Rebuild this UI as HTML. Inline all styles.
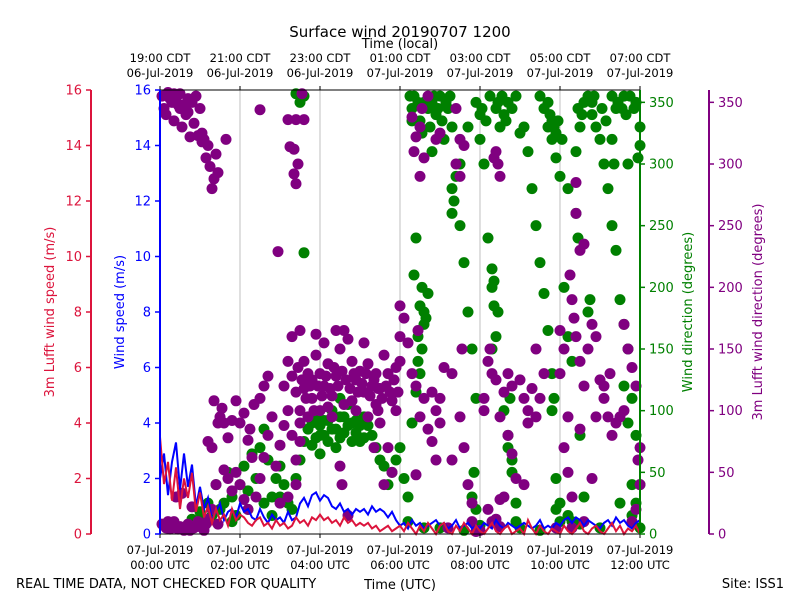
<!DOCTYPE html>
<html><head><meta charset="utf-8"><style>
body{margin:0;background:#fff;}
svg text{font-family:"DejaVu Sans","Liberation Sans",sans-serif;}
</style></head><body>
<svg id="chart" width="800" height="600" viewBox="0 0 800 600" xmlns="http://www.w3.org/2000/svg">
<rect width="800" height="600" fill="#fff"/>
<text x="400" y="37" font-size="15" text-anchor="middle">Surface wind 20190707 1200</text>
<text x="400" y="48" font-size="13" text-anchor="middle">Time (local)</text>
<text x="400" y="589" font-size="13" text-anchor="middle">Time (UTC)</text>
<text x="16" y="588" font-size="13">REAL TIME DATA, NOT CHECKED FOR QUALITY</text>
<text x="784" y="588" font-size="13" text-anchor="end">Site: ISS1</text>
<g id="grid"></g><g id="dots"></g><g id="lines"></g><g id="axes"></g>
</svg>
<script>
const hoursTicks=[0,2,4,6,8,10,12];
const utcLabels1=["07-Jul-2019","07-Jul-2019","07-Jul-2019","07-Jul-2019","07-Jul-2019","07-Jul-2019","07-Jul-2019"];
const utcLabels2=["00:00 UTC","02:00 UTC","04:00 UTC","06:00 UTC","08:00 UTC","10:00 UTC","12:00 UTC"];
const localLabels1=["19:00 CDT","21:00 CDT","23:00 CDT","01:00 CDT","03:00 CDT","05:00 CDT","07:00 CDT"];
const localLabels2=["06-Jul-2019","06-Jul-2019","06-Jul-2019","07-Jul-2019","07-Jul-2019","07-Jul-2019","07-Jul-2019"];
const speedTicks=[0,2,4,6,8,10,12,14,16];
const dirTicks=[0,50,100,150,200,250,300,350];
const blueSpeed=[2.0,2.9,1.4,2.6,3.3,1.6,2.9,1.7,2.5,1.0,1.7,
0.9,1.3,0.5,0.8,1.1,0.5,0.8,0.9,0.6,1.1,
0.8,0.9,0.6,0.5,0.9,0.6,0.4,0.7,0.5,0.6,
0.4,0.8,0.5,0.6,1.1,1.3,1.0,1.4,1.5,1.2,
1.4,1.3,1.0,0.9,1.1,0.8,0.9,0.7,0.9,0.8,
0.9,0.7,1.0,0.8,0.9,0.8,0.6,0.8,0.5,0.3,
0.4,0.2,0.5,0.3,0.4,0.2,0.3,0.4,0.5,0.3,
0.4,0.2,0.3,0.5,0.2,0.3,0.4,0.2,0.3,0.2,
0.4,0.3,0.2,0.5,0.3,0.2,0.4,0.3,0.2,0.3,
0.4,0.3,0.2,0.3,0.5,0.2,0.3,0.2,0.4,0.3,
0.5,0.6,0.4,0.6,0.5,0.3,0.5,0.4,0.3,0.2,
0.4,0.5,0.3,0.6,0.4,0.5,0.3,0.2,0.4,0.5];
const redSpeed=[3.5,1.8,2.6,1.2,2.4,0.9,2.0,1.3,2.2,0.8,1.5,
0.6,1.0,0.4,0.9,0.5,0.7,0.3,0.9,0.5,0.7,
0.6,0.4,0.3,0.5,0.6,0.3,0.4,0.2,0.5,0.3,
0.4,0.2,0.3,0.6,0.4,0.5,0.3,0.6,0.5,0.7,
0.5,0.6,0.4,0.5,0.3,0.6,0.4,0.5,0.3,0.4,
0.3,0.4,0.2,0.3,0.1,0.2,0.3,0.1,0.2,0.3,
0.1,0.4,0.2,0.0,0.3,0.1,0.4,0.2,0.0,0.3,
0.4,0.1,0.0,0.3,0.1,0.4,0.2,0.0,0.3,0.1,
0.0,0.2,0.4,0.1,0.0,0.2,0.3,0.0,0.1,0.2,
0.0,0.5,0.2,0.0,0.3,0.1,0.0,0.2,0.1,0.0,
0.3,0.1,0.0,0.2,0.4,0.1,0.0,0.2,0.3,0.1,
0.0,0.2,0.4,0.1,0.3,0.0,0.2,0.1,0.3,0.0];
const greenDir=[[0.6,5],[0.8,12],[1.0,18],[1.1,10],[1.2,25],[1.3,15],[1.4,40],[1.5,20],[1.6,25],[1.7,50],[1.8,30],[1.9,15],[2.0,40],[2.1,55],[2.2,35],[2.3,65],[2.4,45],[2.5,70],[2.6,85],[2.7,60],[2.8,30],[2.9,45],[3.0,55],[3.1,40],[3.2,25],[3.3,20],[3.4,45],[3.5,60],[3.6,75],[3.7,85],[3.8,90],[3.9,95],[4.0,88],[4.1,80],[4.2,92],[4.3,100],[4.4,85],[4.5,78],[4.6,95],[4.7,105],[4.8,90],[4.9,82],[5.0,75],[5.1,95],[5.2,88],[5.3,80],[5.4,70],[5.5,60],[5.6,55],[5.7,40],[5.8,50],[5.9,60],[6.0,70],[6.1,45],[6.2,30],[6.3,90],[6.4,115],[6.5,130],[6.55,150],[6.6,170],[6.7,195],[6.5,185],[6.45,140],[6.35,210],[6.4,240],[6.3,345],[6.35,355],[6.5,335],[6.6,350],[6.8,350],[6.9,340],[7.0,355],[7.2,345],[7.3,330],[7.1,320],[6.8,310],[7.5,300],[7.7,330],[7.9,350],[8.0,340],[8.1,300],[8.0,320],[7.3,280],[7.4,290],[7.5,250],[7.6,220],[7.7,180],[7.8,150],[7.9,110],[7.85,50],[7.8,30],[7.9,20],[8.2,240],[8.3,200],[8.35,185],[8.4,160],[8.3,150],[8.6,100],[8.7,80],[8.8,60],[8.75,110],[8.9,25],[8.9,10],[8.4,345],[8.5,330],[8.6,340],[8.7,350],[8.9,355],[9.0,325],[9.1,330],[9.2,310],[9.3,280],[9.4,250],[9.5,220],[9.6,195],[9.7,165],[9.8,100],[9.9,45],[9.9,20],[10.0,25],[9.5,355],[9.6,345],[9.7,330],[9.8,320],[9.9,305],[10.0,290],[10.2,280],[10.4,310],[10.5,330],[10.6,350],[10.7,355],[10.8,340],[10.9,330],[11.0,320],[11.1,300],[11.2,280],[11.3,250],[11.4,230],[11.5,190],[11.6,170],[11.7,150],[11.8,110],[11.9,80],[12.0,40],[11.8,15],[12.0,5],[11.4,345],[11.6,355],[11.9,350],[12.0,330],[11.7,300],[10.1,200],[10.2,160],[10.3,140],[10.5,80],[10.6,30],[10.0,10],[11.5,25],[6.2,10],[6.6,5],[7.0,5],[7.6,3],[8.0,7],[9.0,5],[9.5,3],[10.5,8],[11.0,5],[3.4,357],[3.5,350],[3.6,355],[3.6,228],
[4.0,80],[4.1,92],[4.2,75],[4.3,85],[4.4,70],[4.5,95],[4.6,82],[4.8,75],[4.9,92],[5.0,88],[5.1,78],[4.7,88],[3.9,78],[3.8,72],[4.0,65],[4.5,110],[2.2,20],[2.6,25],[3.0,30],[2.8,15],[1.8,10],
[6.25,355],[6.3,335],[6.45,350],[6.55,325],[6.7,345],[6.75,330],[6.85,355],[6.95,345],[7.05,335],[7.15,350],[7.25,355],[6.55,200],[6.6,180],[6.65,175],[6.45,160],[7.3,260],[7.35,270],[8.05,345],[8.15,335],[8.25,355],[8.45,350],[8.55,355],[8.65,335],[8.8,345],[8.3,215],[8.35,205],[8.45,180],[8.7,70],[8.8,50],[9.7,350],[9.75,340],[9.8,335],[9.85,330],[9.9,325],[9.95,335],[10.05,320],[10.45,345],[10.55,340],[10.8,350],[10.85,355],[11.05,345],[11.15,335],[11.3,355],[11.45,350],[11.55,345],[11.65,340],[11.75,355],[11.85,345],[11.95,305],[12.0,315],[11.3,320],[11.35,300],[10.4,260],[10.45,240],[10.7,180],[10.75,190],[11.6,120],[11.7,90],[11.8,40],[11.9,25],[10.2,15],[10.3,10],[9.8,130],[9.85,110]];
const purpleDir=[[0.05,355],[0.1,345],[0.2,358],[0.3,350],[0.4,352],[0.5,357],[0.6,348],[0.7,353],[0.8,350],[0.9,355],[1.0,345],[0.15,340],[0.35,335],[0.55,330],[0.75,322],[0.65,340],[0.85,333],[0.95,323],[1.05,325],[1.1,320],[1.2,315],[1.15,305],[1.25,298],[1.3,280],[1.4,308],[1.05,318],[1.45,293],[1.35,288],
[0.25,353],[0.45,348],[0.15,356],[0.35,357],[0.5,345],[0.7,342],
[0.05,8],[0.15,5],[0.25,4],[0.35,10],[0.5,6],[0.6,3],[0.7,8],[0.85,5],[1.0,6],[1.1,3],[0.4,30],[0.55,33],[0.8,22],[1.2,12],[1.3,20],[1.45,8],
[0.2,10],[0.45,4],[0.75,3],[0.95,10],[1.15,8],
[1.2,75],[1.3,70],[1.4,40],[1.45,90],[1.5,95],[1.6,90],[1.7,78],[1.8,92],[1.9,108],[2.0,90],[2.1,98],[2.2,76],[2.3,62],[1.6,52],[1.7,45],[1.8,35],[1.9,50],[2.0,40],[2.1,28],[2.2,20],[2.4,30],[2.5,45],[2.6,62],[2.7,80],[2.8,95],[2.9,55],[3.0,72],[3.1,88],[3.2,100],[3.3,80],[3.4,60],[2.5,110],[2.6,120],[2.7,128],[2.35,105],[1.55,102],[1.35,108],[2.25,85],[3.0,25],[3.2,30],[3.4,40],[3.5,75],
[1.65,320],[2.5,344],[2.95,229],[3.2,336],[3.4,336],[3.6,336],[3.25,314],[3.35,312],[3.4,284],[3.35,292],[3.55,357],[3.45,300],
[3.1,120],[3.2,140],[3.3,128],[3.4,115],[3.5,100],[3.6,140],[3.7,130],[3.8,125],[3.9,145],[4.0,130],[4.1,120],[4.2,138],[4.3,112],[4.4,128],[4.5,150],[4.6,165],[4.7,158],[4.8,140],[4.9,125],[5.0,132],[5.1,115],[5.2,138],[5.3,120],[5.4,105],[5.5,118],[5.6,145],[5.7,130],[5.8,108],[5.9,100],[6.0,140],[6.1,175],[6.0,160],[3.5,90],[3.7,95],[4.0,100],[4.3,95],[4.6,105],[4.9,100],[5.2,95],[5.5,90],[5.7,70],[5.8,50],[5.6,40],[3.9,162],[4.1,155],[3.3,160],[3.5,165],[4.4,165],[5.1,155],[5.4,130],[4.8,108],[3.6,118],[3.8,110],[4.2,103],[6.0,185],[5.45,100],[5.9,135],[4.55,40],[4.7,15],[4.5,55],[5.35,70],
[3.95,120],[4.05,112],[4.15,128],[4.25,118],[4.35,135],[4.45,120],[4.55,132],[4.65,125],[4.75,118],[4.85,130],[4.95,115],[5.05,122],[5.15,130],[5.25,112],[5.35,125],[5.45,118],[5.55,110],[5.65,120],[5.75,115],[5.85,125],[5.95,115],[3.45,135],[3.55,125],[3.65,110],[3.75,120],[3.85,100],
[6.2,155],[6.3,130],[6.4,120],[6.45,165],[6.5,95],[6.6,110],[6.7,85],[6.8,75],[6.9,100],[7.0,110],[7.1,135],[7.0,90],[6.8,115],[6.9,60],[6.4,48],[6.3,338],[6.4,322],[6.5,330],[6.6,305],[6.5,290],[6.7,355],[6.9,320],[7.0,325],[6.35,310],[6.55,345],[7.3,130],[7.5,95],[7.6,70],[7.7,40],[7.8,25],[7.55,150],[7.3,60],[7.8,10],[7.2,5],[7.9,2],[8.0,3],[8.1,110],[8.2,140],[8.25,150],[8.3,130],[8.4,125],[8.1,100],[8.5,95],[8.6,115],[8.7,80],[8.8,65],[8.9,45],[8.6,30],[8.3,10],[8.5,6],[8.2,20],[9.0,125],[9.1,110],[9.2,100],[9.3,118],[9.4,95],[9.5,110],[9.6,130],[9.4,150],[9.1,40],[9.2,90],[8.8,120],[8.7,130],[8.5,28],[8.4,12],[7.4,345],[7.5,320],[7.6,315],[7.4,300],[7.5,290],[8.35,305],[8.4,310],[8.45,300],[8.5,290],
[10.0,165],[10.1,150],[10.0,130],[10.2,95],[10.1,70],[10.2,50],[10.3,30],[10.25,210],[10.3,190],[10.35,175],[10.4,160],[10.5,140],[10.6,120],[10.7,150],[10.8,170],[10.9,160],[11.0,125],[11.1,110],[11.2,95],[11.3,80],[11.4,90],[11.5,95],[11.6,170],[11.7,150],[11.8,135],[11.9,120],[11.95,60],[12.0,40],[11.9,20],[11.8,10],[12.0,70],[11.6,100],[10.8,45],[10.5,85],[10.9,95],[11.25,130],[11.1,120],[10.6,10],[10.3,5],[9.9,5],[10.4,260],[10.5,230],[10.6,235],[10.4,285]];

const X0=160,X1=640,Y0=534,Y1=90;
const xS=h=>X0+(h/12)*(X1-X0);
const ySpd=v=>Y0-(v/16)*(Y0-Y1);
const yDir=d=>Y0-(d/360)*(Y0-Y1);
const NS="http://www.w3.org/2000/svg";
function mk(tag,parent,attrs){const e=document.createElementNS(NS,tag);for(const k in attrs)e.setAttribute(k,attrs[k]);parent.appendChild(e);return e;}
const grid=document.getElementById('grid'),dots=document.getElementById('dots'),lines=document.getElementById('lines'),axes=document.getElementById('axes');
hoursTicks.forEach((h,i)=>{
 if(i>0&&i<hoursTicks.length-1){const g=mk('line',grid,{x1:xS(h),x2:xS(h),y1:Y1,y2:Y0,stroke:'#b0b0b0','stroke-width':0.8});
 
 }
 const tb=mk('line',axes,{x1:xS(h),x2:xS(h),y1:Y0,y2:Y0+4,stroke:'#000'});
 
 
 const tt=mk('line',axes,{x1:xS(h),x2:xS(h),y1:Y1,y2:Y1-4,stroke:'#000'});
 
 
 [[utcLabels1[i],554],[utcLabels2[i],569]].forEach(([s,y])=>{const t=mk('text',axes,{x:xS(h),y:y,'font-size':11.5,'text-anchor':'middle'});t.textContent=s;
 
 });
 [[localLabels1[i],62],[localLabels2[i],77]].forEach(([s,y])=>{const t=mk('text',axes,{x:xS(h),y:y,'font-size':11.5,'text-anchor':'middle'});t.textContent=s;
 
 });
});
greenDir.forEach(p=>{const c=mk('circle',dots,{cx:xS(p[0]),cy:yDir(p[1]),r:5.5,fill:'#008000'});
 
 });
purpleDir.forEach(p=>{const c=mk('circle',dots,{cx:xS(p[0]),cy:yDir(p[1]),r:5.5,fill:'#800080'});
 
 });
function path(arr,color,name){let d='';arr.forEach((v,i)=>{d+=(i?'L':'M')+xS(i*12/(arr.length-1)).toFixed(1)+','+ySpd(v).toFixed(1);});
 const p=mk('path',lines,{d:d,fill:'none',stroke:color,'stroke-width':2});
 
 }
path(blueSpeed,'#0000ff','wind-speed-line');
path(redSpeed,'#dc143c','lufft-wind-speed-line');
const fr=mk('rect',axes,{x:X0,y:Y1,width:X1-X0,height:Y0-Y1,fill:'none',stroke:'#000','stroke-width':1});


function vaxis(x,color,ticks,yf,side,name,title,tx){
 const l=mk('line',axes,{x1:x,x2:x,y1:Y1,y2:Y0,stroke:color,'stroke-width':2});
 
 
 ticks.forEach(v=>{const y=yf(v);
  const t=mk('line',axes,{x1:x,x2:x+side*5,y1:y,y2:y,stroke:color,'stroke-width':1.5});
  
  
  const lb=mk('text',axes,{x:x+side*9,y:y+4.5,'font-size':13,fill:color,'text-anchor':side<0?'end':'start'});lb.textContent=v;
  
  });
 const tt=mk('text',axes,{x:tx,y:(Y0+Y1)/2,'font-size':13,fill:color,'text-anchor':'middle',transform:`rotate(-90 ${tx} ${(Y0+Y1)/2})`});tt.textContent=title;
 
 
}
vaxis(91,'#dc143c',speedTicks,ySpd,-1,'lufft-speed-axis','3m Lufft wind speed (m/s)',54);
vaxis(160,'#0000ff',speedTicks,ySpd,-1,'wind-speed-axis','Wind speed (m/s)',124);
vaxis(640,'#008000',dirTicks,yDir,1,'wind-direction-axis','Wind direction (degrees)',692);
vaxis(709,'#800080',dirTicks,yDir,1,'lufft-direction-axis','3m Lufft wind direction (degrees)',762);
</script>
</body></html>
